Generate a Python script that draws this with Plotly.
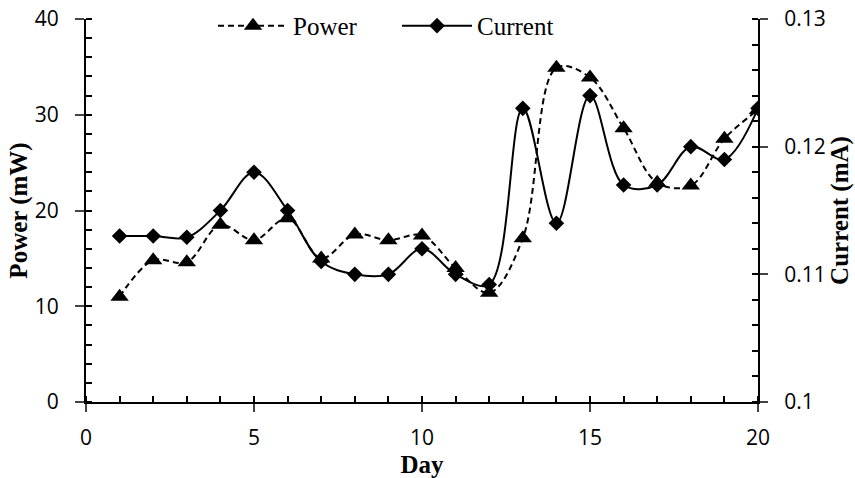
import plotly.graph_objects as go

days = list(range(1, 21))
power_mw = [11.0, 14.8, 14.6, 18.5, 16.9, 19.2, 15.0, 17.5, 16.9, 17.4,
            14.0, 11.4, 17.1, 34.9, 33.9, 28.6, 22.9, 22.6, 27.5, 30.5]
current_ma = [0.113, 0.113, 0.1129, 0.115, 0.118, 0.115, 0.111, 0.110, 0.110, 0.112,
              0.110, 0.1092, 0.123, 0.114, 0.124, 0.117, 0.117, 0.120, 0.119, 0.123]

x_ticks = [0, 5, 10, 15, 20]
y_ticks = [0, 10, 20, 30, 40]
y2_ticks = [0.10, 0.11, 0.12, 0.13]
y2_labels = ["0.1", "0.11", "0.12", "0.13"]

tick_font = dict(family="Open Sans", size=21, color="black")
title_font = dict(family="Liberation Serif", size=25, color="black")

fig = go.Figure()
fig.add_trace(go.Scatter(
    x=days, y=power_mw, name="Power", mode="lines+markers",
    line=dict(color="black", width=2, dash="6px,4px", shape="spline", smoothing=1),
    marker=dict(symbol="triangle-up", size=16, color="black", line=dict(width=0)),
))
fig.add_trace(go.Scatter(
    x=days, y=current_ma, name="Current", mode="lines+markers", yaxis="y2",
    line=dict(color="black", width=2, shape="spline", smoothing=1),
    marker=dict(symbol="diamond", size=12, color="black", line=dict(width=0)),
))

fig.update_layout(
    width=855, height=478,
    margin=dict(l=86, r=97, t=19, b=76, autoexpand=False),
    paper_bgcolor="white", plot_bgcolor="white",
    showlegend=True,
    legend=dict(orientation="h", x=0.189, xanchor="left", y=0.982, yanchor="middle",
                font=dict(family="Liberation Serif", size=25, color="black"),
                bgcolor="rgba(255,255,255,0)", itemwidth=70, entrywidth=99,
                entrywidthmode="pixels", tracegroupgap=0),
    xaxis=dict(
        range=[0, 20], tickvals=x_ticks, ticks="outside", ticklen=8, tickwidth=2,
        showline=True, linecolor="black", linewidth=2, showgrid=False, zeroline=False,
        tickfont=tick_font, ticklabelstandoff=8,
        minor=dict(dtick=1, ticks="inside", ticklen=6, tickwidth=2, tickcolor="black", showgrid=False),
        title=dict(text="<b>Day</b>", font=title_font, standoff=0),
    ),
    yaxis=dict(
        range=[0, 40], tickvals=y_ticks, ticks="outside", ticklen=9, tickwidth=2,
        showline=True, linecolor="black", linewidth=2, showgrid=False, zeroline=False,
        tickfont=tick_font, ticklabelstandoff=12,
        minor=dict(dtick=2, ticks="inside", ticklen=6, tickwidth=2, tickcolor="black", showgrid=False),
        title=dict(text="<b>Power (mW)</b>", font=title_font, standoff=0),
    ),
    yaxis2=dict(
        range=[0.10, 0.13], tickvals=y2_ticks, ticktext=y2_labels, overlaying="y", side="right",
        ticks="outside", ticklen=8, tickwidth=2,
        showline=True, linecolor="black", linewidth=2, showgrid=False, zeroline=False,
        tickfont=tick_font, ticklabelstandoff=12,
        minor=dict(dtick=0.002, ticks="inside", ticklen=6, tickwidth=2, tickcolor="black", showgrid=False),
        title=dict(text="<b>Current (mA)</b>", font=title_font, standoff=0),
    ),
)

fig.write_html("out.html")
